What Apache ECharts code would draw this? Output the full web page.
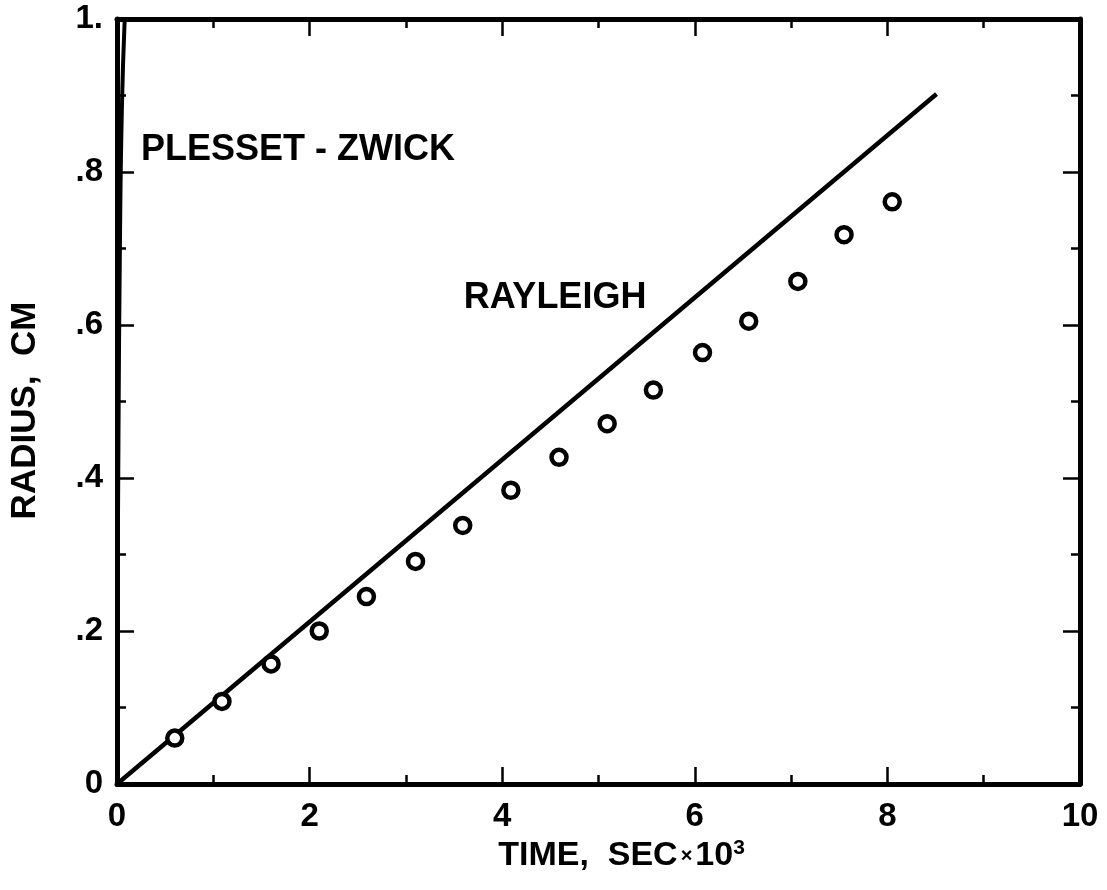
<!DOCTYPE html>
<html>
<head>
<meta charset="utf-8">
<script src="https://cdn.jsdelivr.net/npm/echarts@6/dist/echarts.min.js"></script>
<style>
html,body{margin:0;padding:0;background:#fff;}
#chart{width:1107px;height:890px;}
</style>
</head>
<body>
<div id="chart"></div>
<script>
// Data
const expTime = [0.6, 1.09, 1.6, 2.1, 2.59, 3.1, 3.59, 4.09, 4.59, 5.09, 5.57, 6.08, 6.56, 7.07, 7.55, 8.05];
const expRadius = [0.060, 0.108, 0.157, 0.200, 0.245, 0.291, 0.338, 0.384, 0.427, 0.471, 0.515, 0.564, 0.605, 0.657, 0.718, 0.761];
const rayleighTime = [0, 8.51];
const rayleighRadius = [0, 0.902];
const plessetTime = [0, 0.005, 0.015, 0.03, 0.05, 0.08];
const plessetRadius = [0, 0.2, 0.45, 0.7, 0.88, 1.0];
const xTicks = [0, 2, 4, 6, 8, 10];
const yTickLabels = {0: '0', 0.2: '.2', 0.4: '.4', 0.6: '.6', 0.8: '.8', 1: '1.'};
const annotations = [
  {name: 'PLESSET - ZWICK', t: 0.25, r: 0.829},
  {name: 'RAYLEIGH', t: 3.6, r: 0.635}
];

const zip = (a, b) => a.map((v, i) => [v, b[i]]);
const FONT = 'Liberation Sans';
const chart = echarts.init(document.getElementById('chart'), null, {renderer: 'canvas'});

const axisLine = {show: true, onZero: false, lineStyle: {color: '#000', width: 5}};
const majorTick = {show: true, inside: true, length: 17, lineStyle: {color: '#000', width: 2.5}};
const minorTick = {show: true, splitNumber: 2, length: 9, lineStyle: {color: '#000', width: 2.5}};

chart.setOption({
  backgroundColor: '#fff',
  animation: false,
  grid: {left: 115, right: 27, top: 19, bottom: 106, containLabel: false},
  xAxis: [{
    type: 'value', min: 0, max: 10, interval: 2, position: 'bottom',
    axisLine: axisLine, axisTick: majorTick, minorTick: minorTick,
    splitLine: {show: false}, minorSplitLine: {show: false},
    axisLabel: {color: '#000', fontFamily: FONT, fontWeight: 'bold', fontSize: 33, margin: 16,
      formatter: v => xTicks.includes(v) ? String(v) : ''},
    name: 'TIME,  SEC{x|×}10{sup|3}', nameLocation: 'middle', nameGap: 54,
    nameTextStyle: {color: '#000', fontFamily: FONT, fontWeight: 'bold', fontSize: 34, padding: [0, 0, 0, 46],
      rich: {
        x: {fontSize: 20, fontFamily: FONT, fontWeight: 'bold', color: '#000', padding: [0, 3, 0, 3]},
        sup: {fontSize: 21, fontFamily: FONT, fontWeight: 'bold', color: '#000', verticalAlign: 'bottom', padding: [0, 0, 15, 0]}
      }}
  }, {
    type: 'value', min: 0, max: 10, interval: 2, position: 'top',
    axisLine: axisLine, axisTick: majorTick, minorTick: minorTick,
    splitLine: {show: false}, axisLabel: {show: false}
  }],
  yAxis: [{
    type: 'value', min: 0, max: 1, interval: 0.2, position: 'left',
    axisLine: axisLine, axisTick: majorTick, minorTick: minorTick,
    splitLine: {show: false}, minorSplitLine: {show: false},
    axisLabel: {color: '#000', fontFamily: FONT, fontWeight: 'bold', fontSize: 33, margin: 14,
      formatter: v => { const k = Math.round(v * 10) / 10; return yTickLabels[k] !== undefined ? yTickLabels[k] : ''; }},
    name: 'RADIUS,  CM', nameLocation: 'middle', nameGap: 74, nameRotate: 90,
    nameTextStyle: {color: '#000', fontFamily: FONT, fontWeight: 'bold', fontSize: 35, padding: [0, 18, 0, 0]}
  }, {
    type: 'value', min: 0, max: 1, interval: 0.2, position: 'right',
    axisLine: axisLine, axisTick: majorTick, minorTick: minorTick,
    splitLine: {show: false}, axisLabel: {show: false}
  }],
  series: [
    {
      name: 'Rayleigh', type: 'line', data: zip(rayleighTime, rayleighRadius),
      showSymbol: false, lineStyle: {color: '#000', width: 4.5}, clip: true, z: 3
    },
    {
      name: 'Plesset-Zwick', type: 'line', data: zip(plessetTime, plessetRadius),
      showSymbol: false, smooth: true, lineStyle: {color: '#000', width: 4}, clip: true, z: 3
    },
    {
      name: 'Experiment', type: 'scatter', data: zip(expTime, expRadius),
      symbol: 'circle', symbolSize: 15,
      itemStyle: {color: '#fff', borderColor: '#000', borderWidth: 4.5, opacity: 1}, z: 4
    },
    {
      name: 'Labels', type: 'scatter', symbolSize: 0,
      data: annotations.map(a => ({name: a.name, value: [a.t, a.r]})),
      itemStyle: {opacity: 1},
      label: {show: true, position: 'right', distance: 0, formatter: p => p.name,
        color: '#000', fontFamily: FONT, fontWeight: 'bold', fontSize: 36},
      silent: true, z: 5
    }
  ]
});
</script>
</body>
</html>
